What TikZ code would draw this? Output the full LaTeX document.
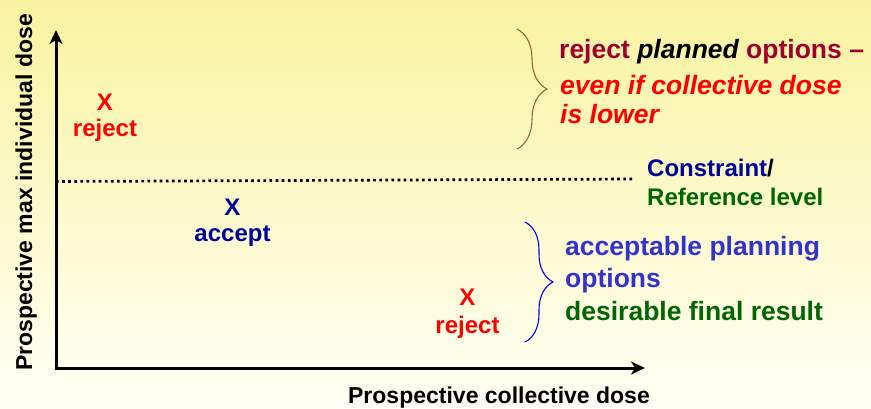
\documentclass[tikz,border=0pt]{standalone}
\usepackage{fontspec}
\setmainfont{Liberation Sans}
\usetikzlibrary{arrows.meta,decorations.pathreplacing}

\definecolor{bgtop}{RGB}{249,243,160}
\definecolor{bgmid}{RGB}{255,255,214}
\definecolor{bgbot}{RGB}{255,255,245}
\definecolor{maroon}{RGB}{160,0,48}
\definecolor{navy}{RGB}{0,0,153}
\definecolor{okblue}{RGB}{51,51,204}
\definecolor{dkgreen}{RGB}{0,102,0}
\definecolor{bracebrown}{RGB}{153,102,51}

\begin{document}
\begin{tikzpicture}[x=1pt,y=-1pt,
  txt/.style={inner sep=0pt, font=\bfseries\fontsize{24}{28}\selectfont},
  note/.style={inner sep=0pt, anchor=base west, font=\bfseries\fontsize{26.5}{32}\selectfont},
  axislabel/.style={inner sep=0pt, anchor=base, font=\bfseries\fontsize{23}{28}\selectfont},
  axis/.style={line width=3pt, {Stealth[length=14pt,width=13pt,inset=4pt]}-{Stealth[length=14pt,width=13pt,inset=4pt]}},
  level/.style={line width=2.7pt, dash pattern=on 2.7pt off 3.4pt},
  bracket/.style={decorate, line width=1.1pt}
]
% background
\shade[top color=bgtop, middle color=bgmid, bottom color=bgbot] (0,0) rectangle (871,408);
\useasboundingbox (0,0) rectangle (871,408);

% axes
\coordinate (O) at (56,368);
\coordinate (ytop) at (56,30);
\coordinate (xend) at (645,368);
\draw[axis] (ytop) -- (O) -- (xend);

\node[axislabel, rotate=90] (ylab) at (32,192.5) {Prospective max individual dose};
\node[axislabel] (xlab) at (499,403.5) {Prospective collective dose};

% constraint / reference level
\coordinate (lvlA) at (56,181.5);
\coordinate (lvlB) at (634,179);
\draw[level] (lvlA) -- (lvlB);
\node[inner sep=0pt, anchor=base west, font=\bfseries\fontsize{24}{28}\selectfont] (cons) at (647,176.7) {\textcolor{navy}{Constraint}/};
\node[inner sep=0pt, anchor=base west, font=\bfseries\fontsize{24}{28}\selectfont, text=dkgreen] (refl) at (647,205) {Reference level};

% sample options
\node[txt, anchor=base, text=red] (x1) at (105,110) {X};
\node[txt, anchor=base, text=red] (r1) at (105,136) {reject};
\node[txt, anchor=base, text=navy] (x2) at (232.5,215) {X};
\node[txt, anchor=base, text=navy] (a2) at (232.5,241.7) {accept};
\node[txt, anchor=base, text=red] (x3) at (467.5,305) {X};
\node[txt, anchor=base, text=red] (r3) at (467.5,333.3) {reject};

% upper brace and notes
\coordinate (b1t) at (517,29);
\coordinate (b1b) at (517,149);
\draw[bracket, bracebrown, decoration={brace, amplitude=30pt}] (b1t) -- (b1b);
\node[note, text=maroon] (n1) at (559,58.3) {reject \textcolor{black}{\itshape planned} options –};
\node[note, text=red] (n2) at (560,94.3) {\itshape even if collective dose};
\node[note, text=red] (n3) at (560,123.3) {\itshape is lower};

% lower brace and notes
\coordinate (b2t) at (525,222);
\coordinate (b2b) at (525,342);
\draw[bracket, blue, decoration={brace, amplitude=28pt}] (b2t) -- (b2b);
\node[note, text=okblue] (n4) at (565,255) {acceptable planning};
\node[note, text=okblue] (n5) at (565,287.3) {options};
\node[note, text=dkgreen] (n6) at (565,320.7) {desirable final result};
\end{tikzpicture}
\end{document}
